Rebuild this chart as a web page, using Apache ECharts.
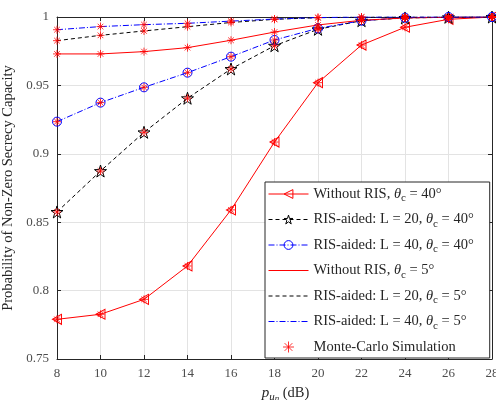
<!DOCTYPE html>
<html>
<head>
<meta charset="utf-8">
<script src="https://cdn.jsdelivr.net/npm/echarts@6/dist/echarts.min.js"></script>
<style>html,body{margin:0;padding:0;background:#fff;}#c{width:496px;height:400px;}</style>
</head>
<body>
<div id="c"></div>
<script>
const xValues = [8, 10, 12, 14, 16, 18, 20, 22, 24, 26, 28];
const xTicks = [8, 10, 12, 14, 16, 18, 20, 22, 24, 26, 28];
const yTicks = [0.75, 0.8, 0.85, 0.9, 0.95, 1];
const noRIS40 = [0.779, 0.7827, 0.7936, 0.818, 0.859, 0.9086, 0.952, 0.9795, 0.9925, 0.9983, 1.0];
const ris20_40 = [0.8575, 0.8874, 0.9157, 0.9406, 0.962, 0.979, 0.991, 0.9973, 0.9993, 0.9998, 1.0];
const ris40_40 = [0.9235, 0.9374, 0.9486, 0.9593, 0.971, 0.9832, 0.9917, 0.9973, 0.9995, 1.0, 1.0];
const noRIS5 = [0.973, 0.973, 0.9747, 0.9776, 0.983, 0.989, 0.9942, 0.9976, 0.9993, 0.9998, 1.0];
const ris20_5 = [0.9827, 0.9866, 0.9898, 0.9929, 0.996, 0.9983, 0.9995, 0.9999, 1.0, 1.0, 1.0];
const ris40_5 = [0.9907, 0.993, 0.9944, 0.9954, 0.997, 0.9985, 0.9996, 1.0, 1.0, 1.0, 1.0];
const seriesNames = [
  'Without RIS, θc = 40°',
  'RIS-aided: L = 20, θc = 40°',
  'RIS-aided: L = 40, θc = 40°',
  'Without RIS, θc = 5°',
  'RIS-aided: L = 20, θc = 5°',
  'RIS-aided: L = 40, θc = 5°',
  'Monte-Carlo Simulation'
];

const FONT = '"Liberation Serif", "Times New Roman", serif';
const TXT = '#262626';
const pair = arr => xValues.map((x, i) => [x, arr[i]]);
const STAR = 'path://M50,0L61.23,34.55L97.55,34.55L68.16,55.9L79.39,90.45L50,69.1L20.61,90.45L31.84,55.9L2.45,34.55L38.77,34.55Z';
const TRI = 'path://M0,5L9,0L9,10Z';
const AST = 'path://M5,0L5,10M0,5L10,5M1.5,1.5L8.5,8.5M1.5,8.5L8.5,1.5';
const DASH = [4, 3];
const DASHDOT = [6, 2, 1, 2];

function lineSeries(name, arr, color, type, symbol, size, symColor) {
  return {
    name, type: 'line', data: pair(arr), xAxisIndex: 0, yAxisIndex: 0,
    lineStyle: { color, width: 1, type },
    symbol: symbol || 'none', symbolSize: size || 0,
    showSymbol: !!symbol,
    itemStyle: { color: symbol ? 'rgba(255,255,255,0)' : color, borderColor: symColor || color, borderWidth: 1 },
    emphasis: { disabled: true },
    animation: false, z: 3
  };
}

const mc = [];
[noRIS40, ris20_40, ris40_40, noRIS5, ris20_5, ris40_5].forEach(arr => {
  xValues.forEach((x, i) => mc.push([x, arr[i]]));
});

const rich = {
  n: { fontFamily: FONT, fontSize: 14.5, color: TXT, lineHeight: 20 },
  i: { fontFamily: FONT, fontSize: 14.5, fontStyle: 'italic', color: TXT, lineHeight: 20 },
  s: { fontFamily: FONT, fontSize: 11, color: TXT, lineHeight: 10, verticalAlign: 'bottom' }
};

function fmtLegend(name) {
  const m = name.match(/^(.*?)θc(.*)$/);
  if (!m) return '{n|' + name + '}';
  return '{n|' + m[1] + '}{i|θ}{s|c}{n|' + m[2] + '}';
}

const hidden = { color: 'rgba(0,0,0,0)', borderColor: 'rgba(0,0,0,0)' };
const legendData = seriesNames.map((name, i) => (i >= 3 && i <= 5) ? { name, itemStyle: hidden } : { name });

const chart = echarts.init(document.getElementById('c'), null, { renderer: 'canvas' });
chart.setOption({
  backgroundColor: '#fff',
  animation: false,
  grid: { left: 57, right: 4, top: 17, bottom: 41, containLabel: false, outerBoundsMode: 'none' },
  legend: {
    data: legendData,
    orient: 'vertical',
    left: 265, top: 182,
    padding: [2, 16, 1, 3],
    itemWidth: 40, itemHeight: 11, itemGap: 5.5,
    backgroundColor: '#fff',
    borderColor: TXT, borderWidth: 1,
    lineStyle: { width: 1 },
    itemStyle: { borderWidth: 1 },
    formatter: fmtLegend,
    textStyle: { fontFamily: FONT, fontSize: 14.5, color: TXT, lineHeight: 20, rich },
    selectedMode: false
  },
  xAxis: [{
    type: 'value', min: 8, max: 28, interval: 2,
    name: '{i|p}{s|u}{t|n}{n| (dB)}',
    nameLocation: 'middle', nameGap: 24,
    nameTextStyle: {
      padding: [0, 0, 0, 22],
      rich: {
        i: { fontFamily: FONT, fontSize: 15, fontStyle: 'italic', color: TXT, lineHeight: 20 },
        s: { fontFamily: FONT, fontSize: 11, fontStyle: 'italic', color: TXT, lineHeight: 12, verticalAlign: 'bottom' },
        t: { fontFamily: FONT, fontSize: 9, fontStyle: 'italic', color: TXT, lineHeight: 6, verticalAlign: 'bottom' },
        n: { fontFamily: FONT, fontSize: 14.5, color: TXT, lineHeight: 20 }
      }
    },
    axisLine: { lineStyle: { color: TXT, width: 1 } },
    axisTick: { inside: true, length: 4, lineStyle: { color: TXT } },
    axisLabel: { fontFamily: FONT, fontSize: 13, color: '#4d4d4d', margin: 8 },
    splitLine: { show: true, lineStyle: { color: '#e3e3e3', width: 1 } }
  }, {
    type: 'value', min: 8, max: 28, interval: 2, position: 'top',
    axisLine: { show: true, onZero: false, lineStyle: { color: TXT, width: 1 } },
    axisTick: { inside: true, length: 4, lineStyle: { color: TXT } },
    axisLabel: { show: false }, splitLine: { show: false }
  }],
  yAxis: [{
    type: 'value', min: 0.75, max: 1, interval: 0.05,
    name: 'Probability of Non-Zero Secrecy Capacity',
    nameLocation: 'middle', nameGap: 35,
    nameTextStyle: { fontFamily: FONT, fontSize: 14.5, color: TXT },
    axisLine: { show: true, lineStyle: { color: TXT, width: 1 } },
    axisTick: { show: true, inside: true, length: 4, lineStyle: { color: TXT } },
    axisLabel: { fontFamily: FONT, fontSize: 13, color: '#4d4d4d', margin: 8,
      formatter: v => String(+v.toFixed(2)) },
    splitLine: { show: true, lineStyle: { color: '#e3e3e3', width: 1 } }
  }, {
    type: 'value', min: 0.75, max: 1, interval: 0.05, position: 'right',
    axisLine: { show: true, onZero: false, lineStyle: { color: TXT, width: 1 } },
    axisTick: { show: true, inside: true, length: 4, lineStyle: { color: TXT } },
    axisLabel: { show: false }, splitLine: { show: false }
  }],
  series: [
    lineSeries(seriesNames[0], noRIS40, '#ff0000', 'solid', TRI, [9, 10], '#ff0000'),
    lineSeries(seriesNames[1], ris20_40, '#000000', DASH, STAR, 12, '#000000'),
    lineSeries(seriesNames[2], ris40_40, '#0000ff', DASHDOT, 'circle', 9, '#0000ff'),
    lineSeries(seriesNames[3], noRIS5, '#ff0000', 'solid'),
    lineSeries(seriesNames[4], ris20_5, '#000000', DASH),
    lineSeries(seriesNames[5], ris40_5, '#0000ff', DASHDOT),
    {
      name: seriesNames[6], type: 'scatter', data: mc,
      symbol: AST, symbolSize: 8,
      itemStyle: { color: 'rgba(255,0,0,0)', borderColor: '#ff0000', borderWidth: 1 },
      emphasis: { disabled: true }, z: 5, animation: false
    }
  ]
});
</script>
</body>
</html>
